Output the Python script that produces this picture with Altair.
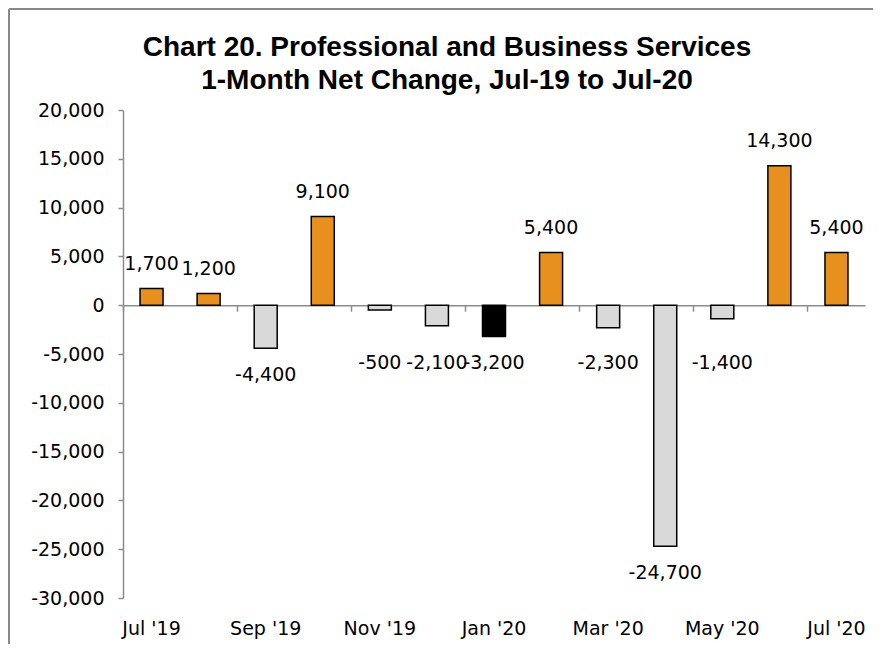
import altair as alt
import pandas as pd

months = ["Jul '19", "Aug '19", "Sep '19", "Oct '19", "Nov '19", "Dec '19",
          "Jan '20", "Feb '20", "Mar '20", "Apr '20", "May '20", "Jun '20", "Jul '20"]
values = [1700, 1200, -4400, 9100, -500, -2100, -3200, 5400, -2300, -24700, -1400, 14300, 5400]
highlight_month = "Jan '20"
label_months = ["Jul '19", "Sep '19", "Nov '19", "Jan '20", "Mar '20", "May '20", "Jul '20"]
y_ticks = list(range(-30000, 20001, 5000))

title_lines = ["Chart 20. Professional and Business Services",
               "1-Month Net Change, Jul-19 to Jul-20"]

kinds = ["up", "down", "highlight"]
kind_colors = ["#E8901E", "#D9D9D9", "#000000"]

AXIS_GRAY = "#8C8C8C"
FONT = "DejaVu Sans"
FS = 19

W, H = 742, 488
PAD_L, PAD_T, PAD_R, PAD_B = 115, 102, 8, 46
Y_MIN, Y_MAX = -30000, 20000
zero_from_bottom = H * (0 - Y_MIN) / (Y_MAX - Y_MIN)


def kind_of(m, v):
    if m == highlight_month:
        return "highlight"
    return "up" if v >= 0 else "down"


def label_pos(v):
    # data-label anchor (value units): above positive bars, below negative ones
    if v >= 0:
        return v + 2500
    return min(v - 2770, -5940)


df = pd.DataFrame({
    "month": months,
    "value": values,
})
df["kind"] = [kind_of(m, v) for m, v in zip(months, values)]
df["lab"] = [label_pos(v) for v in values]
df["text"] = [f"{v:,}" for v in values]

x_enc = alt.X(
    "month:N", sort=months, title=None,
    scale=alt.Scale(paddingInner=0, paddingOuter=0),
    axis=alt.Axis(
        values=label_months, labelAngle=0, orient="bottom",
        offset=-zero_from_bottom,
        domain=True, domainColor=AXIS_GRAY, domainWidth=1.5,
        ticks=True, tickColor=AXIS_GRAY, tickWidth=1.5, tickSize=6, bandPosition=0,
        labelPadding=zero_from_bottom + 15,
        labelFont=FONT, labelFontSize=FS, labelColor="black",
    ),
)

y_scale = alt.Scale(domain=[Y_MIN, Y_MAX], nice=False, zero=False)
y_axis = alt.Axis(
    values=y_ticks, grid=False, title=None,
    domain=True, domainColor=AXIS_GRAY, domainWidth=1.5,
    ticks=True, tickColor=AXIS_GRAY, tickWidth=1.5, tickSize=5,
    labelPadding=14, labelFont=FONT, labelFontSize=FS, labelColor="black",
    labelExpr="replace(format(datum.value, ','), '\u2212', '-')",
)

one = pd.DataFrame({"a": [0]})
frame_top = alt.Chart(one).mark_rule(color="#888888", strokeWidth=2).encode(
    x=alt.value(-PAD_L + 1), x2=alt.value(W + PAD_R),
    y=alt.value(-PAD_T + 1),
)
frame_left = alt.Chart(one).mark_rule(color="#888888", strokeWidth=2).encode(
    x=alt.value(-PAD_L + 1),
    y=alt.value(-PAD_T + 1), y2=alt.value(H + PAD_B),
)

bars = alt.Chart(df).mark_bar(size=23, stroke="black", strokeWidth=1.5).encode(
    x=x_enc,
    y=alt.Y("value:Q", scale=y_scale, axis=y_axis),
    color=alt.Color("kind:N", scale=alt.Scale(domain=kinds, range=kind_colors), legend=None),
)

labels = alt.Chart(df).mark_text(
    font=FONT, fontSize=FS, color="black", baseline="middle", align="center"
).encode(
    x=x_enc,
    y=alt.Y("lab:Q", scale=y_scale, axis=y_axis),
    text="text:N",
)

chart = alt.layer(frame_top, frame_left, bars, labels).properties(
    width=W, height=H,
    autosize=alt.AutoSizeParams(type="none"),
    padding={"left": PAD_L, "top": PAD_T, "right": PAD_R, "bottom": PAD_B},
    title=alt.TitleParams(
        text=title_lines, font="Liberation Sans",
        fontSize=28, fontWeight="bold", color="black",
        anchor="middle", frame="group", dx=-47, dy=97, offset=10, lineHeight=33,
    ),
).configure_view(stroke=None)

chart.save("out.html", embed_options={"renderer": "svg", "actions": False})
